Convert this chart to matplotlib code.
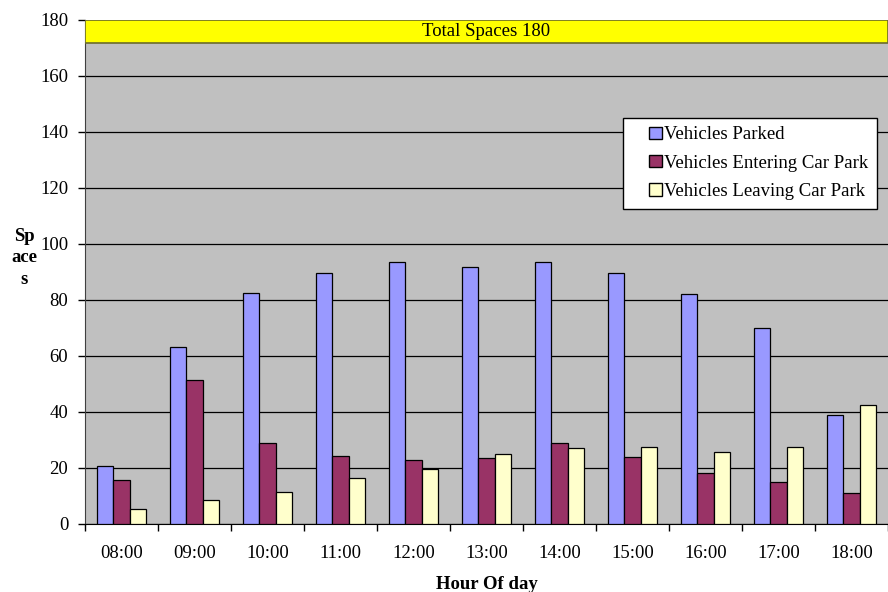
import matplotlib.pyplot as plt
import matplotlib.patches as mpatches
from matplotlib.container import BarContainer
from matplotlib.legend_handler import HandlerPatch
import numpy as np

plt.rcParams['font.family'] = ['Liberation Serif', 'DejaVu Serif']

hours = ['08:00', '09:00', '10:00', '11:00', '12:00', '13:00',
         '14:00', '15:00', '16:00', '17:00', '18:00']
parked = [20.6, 63.1, 82.4, 89.5, 93.4, 91.8, 93.6, 89.5, 82.1, 69.9, 38.8]
entering = [15.7, 51.4, 29.0, 24.3, 22.9, 23.5, 28.8, 24.0, 18.1, 14.9, 11.0]
leaving = [5.2, 8.7, 11.5, 16.5, 19.5, 25.0, 27.0, 27.6, 25.8, 27.6, 42.6]
total_spaces = 180

fs = 13.5

fig = plt.figure(figsize=(8.88, 5.92), dpi=100)
ax = fig.add_axes([85/888, 68/592, 803/888, 504/592])
ax.set_facecolor('#C0C0C0')

x = np.arange(len(hours))
w = 0.22
ax.bar(x - w, parked, w, color='#9999FF', edgecolor='black', linewidth=0.9,
       label='Vehicles Parked', zorder=3)
ax.bar(x, entering, w, color='#993366', edgecolor='black', linewidth=0.9,
       label='Vehicles Entering Car Park', zorder=3)
ax.bar(x + w, leaving, w, color='#FFFFCC', edgecolor='black', linewidth=0.9,
       label='Vehicles Leaving Car Park', zorder=3)

ax.set_xlim(-0.5, len(hours) - 0.5)
ax.set_ylim(0, 180)
ax.set_yticks(np.arange(0, 181, 20))
ax.yaxis.grid(True, color='black', linewidth=0.9, zorder=1)
ax.set_axisbelow(True)

# category boundary ticks, labels centred in groups
ax.set_xticks(np.arange(-0.5, len(hours), 1.0))
ax.set_xticklabels([])
ax.set_xticks(x, minor=True)
ax.set_xticklabels(hours, minor=True)
ax.tick_params(axis='x', which='minor', length=0, pad=15, labelsize=fs)
ax.tick_params(axis='x', which='major', length=5, width=1)
ax.tick_params(axis='y', length=5, width=1, labelsize=fs, pad=7)

for s in ['top', 'right']:
    ax.spines[s].set_visible(False)
ax.spines['left'].set_color('#404040')
ax.spines['bottom'].set_color('black')

# total spaces banner
ax.axhspan(171.9, total_spaces, color='#FFFF00', ec='#6b6b2a', lw=1.2, zorder=4)
ax.text(len(hours) / 2 - 0.5, 176, 'Total Spaces %d' % total_spaces,
        ha='center', va='center', fontsize=fs, zorder=5)

ax.set_xlabel('Hour Of day', fontsize=fs, fontweight='bold')
ax.xaxis.set_label_coords(0.5, -0.103)
fig.text(24/888, 1 - 258/592, 'Sp\nace\ns', fontsize=fs, fontweight='bold',
         ha='center', va='center', linespacing=1.35)


def square(legend, orig_handle, xdescent, ydescent, width, height, fontsize):
    sw, sh = 0.7 * fontsize, 0.65 * fontsize
    return mpatches.Rectangle((-xdescent + width - sw, -ydescent + (height - sh) / 2),
                              sw, sh)


def first_child(legend_handle, orig_handle):
    legend_handle.update_from(orig_handle.patches[0])
    legend_handle.set_linewidth(1.0)


leg = ax.legend(loc='upper left', bbox_to_anchor=(0.67, 0.806), fontsize=fs,
                frameon=True, fancybox=False, edgecolor='black', framealpha=1,
                handlelength=1.65, handleheight=0.7, handletextpad=0.08,
                borderpad=0.45, labelspacing=0.6, borderaxespad=0,
                handler_map={BarContainer: HandlerPatch(patch_func=square,
                                                        update_func=first_child)})
leg.get_frame().set_linewidth(1)
leg.set_zorder(6)

fig.savefig('out.png', dpi=100)
